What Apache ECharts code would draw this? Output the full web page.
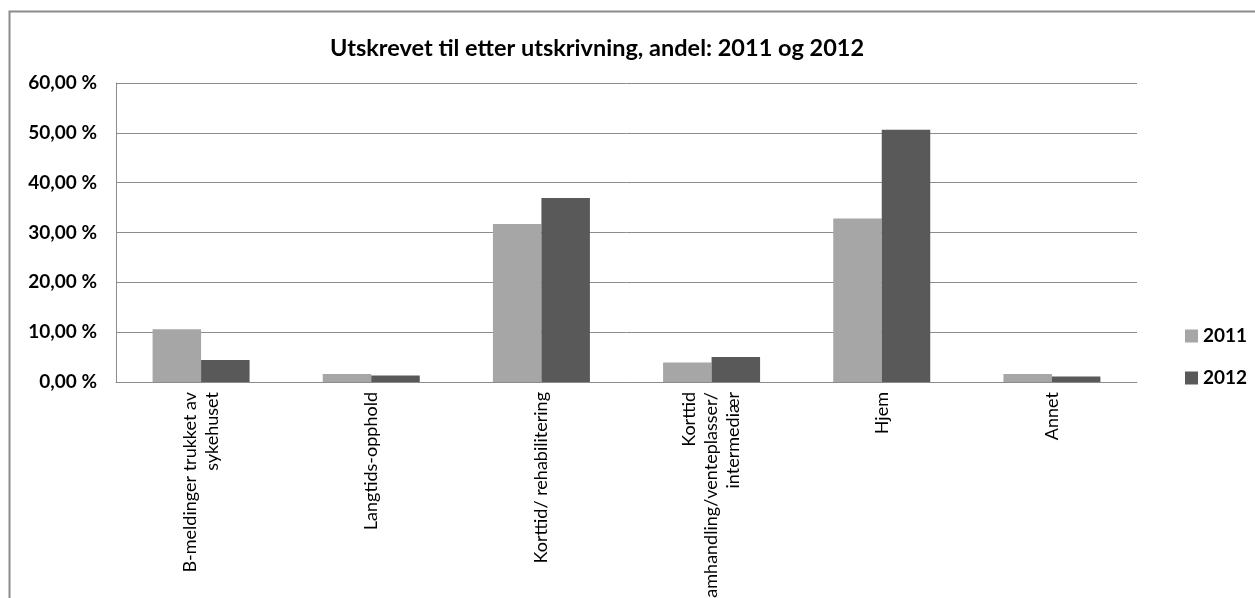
<!DOCTYPE html>
<html>
<head>
<meta charset="utf-8">
<script src="https://cdn.jsdelivr.net/npm/echarts@6/dist/echarts.min.js"></script>
<style>
html,body{margin:0;padding:0;background:#fff;}
#chart{width:1255px;height:598px;}
</style>
</head>
<body>
<div id="chart"></div>
<script>
var categories = [
  "B-meldinger trukket av\nsykehuset",
  "Langtids-opphold",
  "Korttid/ rehabilitering",
  "Korttid\nsamhandling/venteplasser/\nintermediær",
  "Hjem",
  "Annet"
];
var values2011 = [10.6, 1.6, 31.7, 3.9, 32.8, 1.6];
var values2012 = [4.4, 1.3, 36.9, 5.0, 50.6, 1.1];
var seriesNames = ["2011", "2012"];
var yTicks = [0, 10, 20, 30, 40, 50, 60];

var FONT = "Lato, 'Open Sans', sans-serif";
var chart = echarts.init(document.getElementById('chart'));
chart.setOption({
  animation: false,
  backgroundColor: '#ffffff',
  title: {
    text: 'Utskrevet til etter utskrivning, andel: 2011 og 2012',
    left: 592, top: 31, textAlign: 'center',
    textStyle: {fontFamily: FONT, fontSize: 23.5, fontWeight: 'bold', color: '#000'}
  },
  graphic: [{
    type: 'rect', silent: true,
    shape: {x: 9.5, y: 11.5, width: 1260, height: 620},
    style: {fill: 'none', stroke: '#8c8c8c', lineWidth: 2}
  }],
  legend: {
    orient: 'vertical', left: 1180, top: 321, itemGap: 22,
    itemWidth: 13, itemHeight: 13, icon: 'rect',
    textStyle: {fontFamily: FONT, fontSize: 19, fontWeight: 'bold', lineHeight: 20, color: '#000'},
    data: seriesNames
  },
  grid: {left: 116, right: 118, top: 83, bottom: 216, containLabel: false, outerBoundsMode: 'none'},
  xAxis: {
    type: 'category', data: categories,
    axisLine: {lineStyle: {color: '#8c8c8c', width: 1}},
    axisTick: {show: false},
    axisLabel: {rotate: 90, interval: 0, margin: 10, fontFamily: FONT, fontSize: 18, color: '#000', lineHeight: 22, align: 'right', hideOverlap: false}
  },
  yAxis: {
    type: 'value', min: yTicks[0], max: yTicks[yTicks.length-1], interval: 10,
    axisLine: {show: true, lineStyle: {color: '#8c8c8c', width: 1}},
    axisTick: {show: false},
    splitLine: {lineStyle: {color: '#8c8c8c', width: 1}},
    axisLabel: {
      margin: 19, fontFamily: FONT, fontSize: 19, fontWeight: 'bold', color: '#000',
      formatter: function (v) { return v.toFixed(2).replace('.', ',') + ' %'; }
    }
  },
  series: [
    {name: seriesNames[0], type: 'bar', data: values2011, barGap: '0%', barCategoryGap: '43%',
     itemStyle: {color: '#a6a6a6'}},
    {name: seriesNames[1], type: 'bar', data: values2012, barGap: '0%', barCategoryGap: '43%',
     itemStyle: {color: '#595959'}}
  ]
});
</script>
</body>
</html>
